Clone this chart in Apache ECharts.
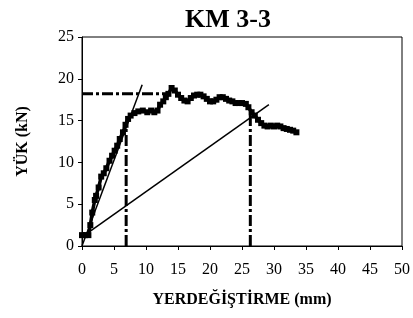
<!DOCTYPE html>
<html>
<head>
<meta charset="utf-8">
<script src="https://cdn.jsdelivr.net/npm/echarts@6/dist/echarts.min.js"></script>
<style>
  html, body { margin: 0; padding: 0; background: #fff; }
  #chart { width: 413px; height: 318px; }
</style>
</head>
<body>
<div id="chart"></div>
<script>
// KM 3-3 yük - yerdeğiştirme eğrisi
var titleText = 'KM 3-3';
var xName = 'YERDEĞİŞTİRME (mm)';
var yName = 'YÜK (kN)';

var xTicks = [0, 5, 10, 15, 20, 25, 30, 35, 40, 45, 50];
var yTicks = [0, 5, 10, 15, 20, 25];

// ölçülen eğri (mm, kN)
var curveX = [0, 0.5, 1.0, 1.3, 1.6, 2.0, 2.2, 2.6, 3.0, 3.4, 3.8, 4.3, 4.7, 5.1, 5.5, 5.9, 6.4, 6.8, 7.2, 7.6,
  8.2, 8.8, 9.5, 10.2, 10.8, 11.3, 11.8, 12.2, 12.7, 13.1, 13.5, 14.0, 14.5, 15.0, 15.5, 16.0, 16.5, 17.0,
  17.5, 18.0, 18.5, 19.0, 19.5, 20.0, 20.5, 21.0, 21.5, 22.0, 22.5, 23.0, 23.5, 24.0, 24.5, 25.0, 25.6,
  26.0, 26.5, 27.0, 27.5, 28.0, 28.5, 29.0, 29.5, 30.0, 30.5, 31.0, 31.5, 32.0, 32.5, 33.0, 33.5];
var curveY = [1.3, 1.3, 1.3, 2.5, 4.0, 5.5, 6.0, 7.0, 8.3, 8.7, 9.3, 10.2, 10.8, 11.4, 12.0, 12.8, 13.6, 14.5, 15.2, 15.6,
  15.9, 16.1, 16.2, 16.0, 16.2, 16.0, 16.2, 16.9, 17.3, 17.8, 18.2, 18.9, 18.6, 18.1, 17.7, 17.4, 17.3, 17.7,
  18.0, 18.1, 18.1, 17.9, 17.6, 17.3, 17.3, 17.5, 17.8, 17.8, 17.6, 17.4, 17.3, 17.1, 17.1, 17.1, 17.0,
  16.6, 16.0, 15.6, 15.1, 14.7, 14.4, 14.3, 14.4, 14.3, 14.4, 14.3, 14.1, 14.0, 13.9, 13.8, 13.6];

// başlangıç rijitliği ve sekant doğruları
var steepLine = [[0, 0], [9.4, 19.3]];
var secantLine = [[0.8, 1.5], [29.2, 16.9]];

// akma / göçme işaret çizgileri
var yieldLoadLine = [[0, 18.2], [13.2, 18.2]];
var yieldDispLine = [[6.9, 0], [6.9, 14.6]];
var ultDispLine = [[26.3, 0], [26.3, 16.0]];

var curve = curveX.map(function (x, i) { return [x, curveY[i]]; });

var serif = '"Liberation Serif", "DejaVu Serif", serif';
var dashDot = { color: '#000', width: 3, type: [11, 3, 3, 3] };

var chart = echarts.init(document.getElementById('chart'));
chart.setOption({
  backgroundColor: '#fff',
  animation: false,
  title: {
    text: titleText,
    left: 223,
    textAlign: 'center',
    top: 2,
    textStyle: { fontFamily: serif, fontWeight: 'bold', fontSize: 26, color: '#000' }
  },
  grid: { left: 82, top: 37, right: 11, bottom: 72, show: true, borderColor: '#000', borderWidth: 1 },
  xAxis: {
    type: 'value',
    min: 0, max: 50, interval: 5,
    name: xName,
    nameLocation: 'middle',
    nameGap: 46,
    nameTextStyle: { fontFamily: serif, fontWeight: 'bold', fontSize: 16, color: '#000' },
    axisLine: { lineStyle: { color: '#000', width: 1 } },
    axisTick: { show: true, length: 4, lineStyle: { color: '#000' } },
    axisLabel: { fontFamily: serif, fontSize: 16, color: '#000', margin: 16 },
    splitLine: { show: false }
  },
  yAxis: {
    type: 'value',
    min: 0, max: 25, interval: 5,
    name: yName,
    nameLocation: 'middle',
    nameGap: 51,
    nameTextStyle: { fontFamily: serif, fontWeight: 'bold', fontSize: 16, color: '#000' },
    axisLine: { show: true, lineStyle: { color: '#000', width: 1 } },
    axisTick: { show: true, length: 4, lineStyle: { color: '#000' } },
    axisLabel: { fontFamily: serif, fontSize: 16, color: '#000', margin: 8 },
    splitLine: { show: false }
  },
  series: [
    { type: 'line', data: yieldLoadLine, symbol: 'none', lineStyle: dashDot, silent: true },
    { type: 'line', data: yieldDispLine, symbol: 'none', lineStyle: dashDot, silent: true },
    { type: 'line', data: ultDispLine, symbol: 'none', lineStyle: dashDot, silent: true },
    { type: 'line', data: steepLine, symbol: 'none', lineStyle: { color: '#000', width: 1.5 }, silent: true },
    { type: 'line', data: secantLine, symbol: 'none', lineStyle: { color: '#000', width: 1.5 }, silent: true },
    {
      type: 'line',
      data: curve,
      symbol: 'rect',
      symbolSize: 6,
      showAllSymbol: true,
      itemStyle: { color: '#000' },
      lineStyle: { color: '#000', width: 3.5 },
      silent: true
    }
  ]
});
</script>
</body>
</html>
